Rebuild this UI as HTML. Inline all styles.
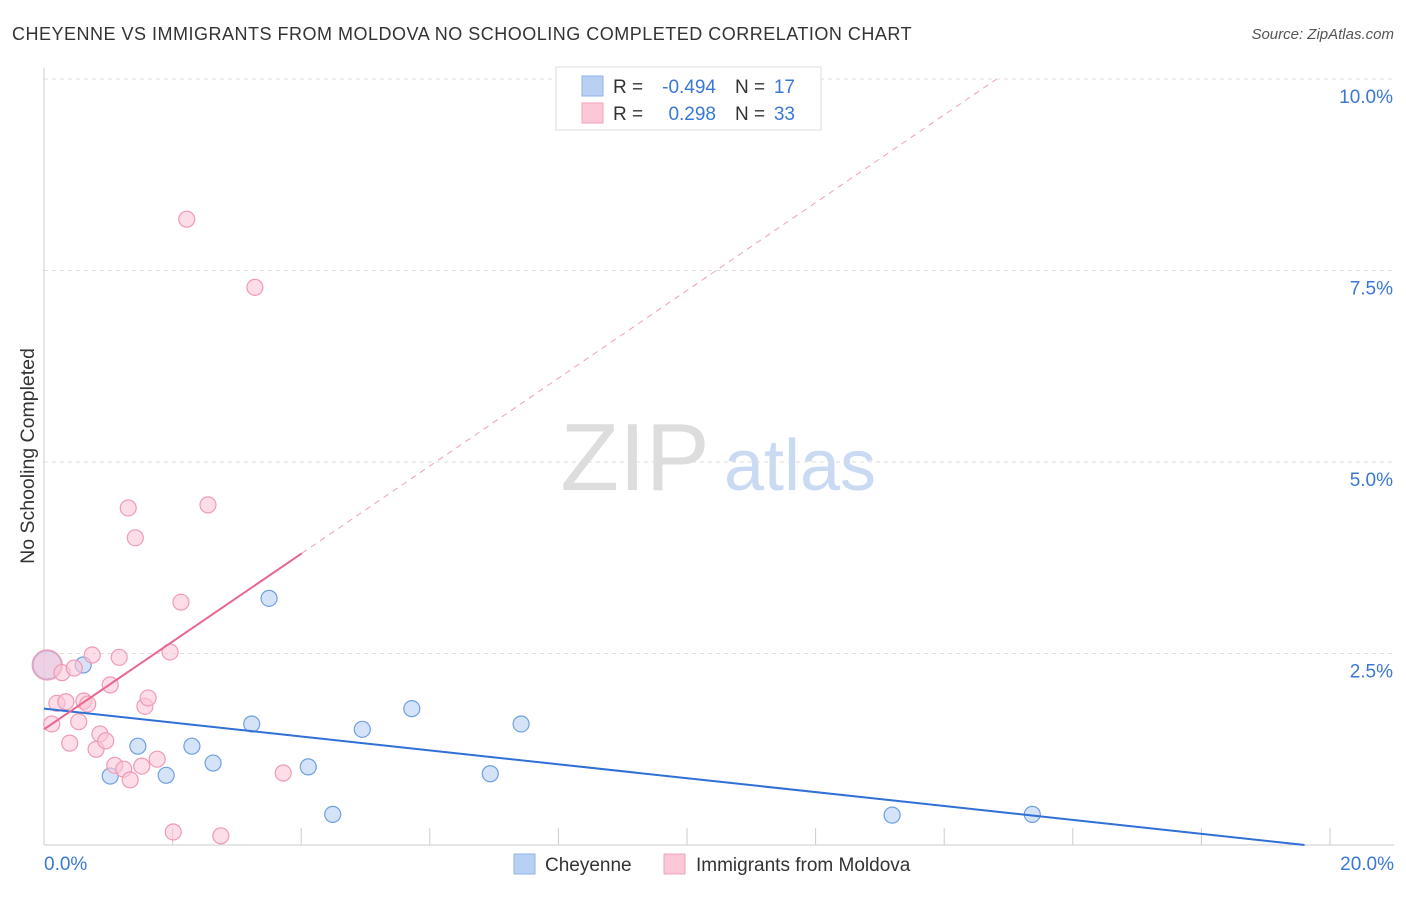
<!DOCTYPE html>
<html><head><meta charset="utf-8"><style>
body{margin:0;background:#fff;font-family:"Liberation Sans",sans-serif;}
svg text{font-family:"Liberation Sans",sans-serif;}
</style></head><body>
<svg id="chart" width="1406" height="892" xmlns="http://www.w3.org/2000/svg">
<text x="12" y="40" font-size="18" letter-spacing="0.5" fill="#333">CHEYENNE VS IMMIGRANTS FROM MOLDOVA NO SCHOOLING COMPLETED CORRELATION CHART</text>
<text x="1394" y="39" font-size="15" fill="#555" text-anchor="end" font-style="italic">Source: ZipAtlas.com</text>
<text x="34" y="456" font-size="19.5" fill="#333" text-anchor="middle" transform="rotate(-90 34 456)">No Schooling Completed</text>
<g><text x="635" y="490" font-size="96" fill="#ddd" font-family="Liberation Serif" text-anchor="middle">ZIP</text><text x="800" y="490" font-size="72" fill="#c9daf2" text-anchor="middle">atlas</text></g>
<g id="grid"></g><g id="marks"></g>
<g>
<rect x="556" y="67" width="265" height="63" fill="#fff" stroke="#ddd"/>
<rect x="582" y="76" width="21" height="20" fill="#b8d1f3" stroke="#8fb4e8"/>
<text x="613" y="93" font-size="19" fill="#333">R =</text><text x="716" y="93" font-size="19" fill="#3a78d6" text-anchor="end">-0.494</text>
<text x="735" y="93" font-size="19" fill="#333">N =</text><text x="795" y="93" font-size="19" fill="#3a78d6" text-anchor="end">17</text>
<rect x="582" y="103" width="21" height="20" fill="#fcc7d7" stroke="#f3a3bb"/>
<text x="613" y="120" font-size="19" fill="#333">R =</text><text x="716" y="120" font-size="19" fill="#3a78d6" text-anchor="end">0.298</text>
<text x="735" y="120" font-size="19" fill="#333">N =</text><text x="795" y="120" font-size="19" fill="#3a78d6" text-anchor="end">33</text>
</g>
<g>
<rect x="514" y="854" width="21" height="20" fill="#b8d1f3" stroke="#8fb4e8"/>
<text x="545" y="871" font-size="19" fill="#333">Cheyenne</text>
<rect x="664" y="854" width="21" height="20" fill="#fcc7d7" stroke="#f3a3bb"/>
<text x="696" y="871" font-size="19" fill="#333">Immigrants from Moldova</text>
</g>
</svg>
<script>
const blueX=[0.05,0.61,1.03,1.46,1.90,2.30,2.63,3.23,3.50,4.11,4.49,4.95,5.72,6.94,7.42,13.19,15.37];
const blueY=[2.35,2.35,0.90,1.29,0.91,1.29,1.07,1.58,3.22,1.02,0.40,1.51,1.78,0.93,1.58,0.39,0.40];
const pinkX=[0.05,0.12,0.20,0.28,0.34,0.40,0.47,0.54,0.62,0.68,0.75,0.81,0.87,0.96,1.03,1.10,1.17,1.24,1.31,1.34,1.42,1.52,1.57,1.62,1.76,1.96,2.01,2.13,2.22,2.55,2.75,3.28,3.72];
const pinkY=[2.35,1.58,1.85,2.25,1.87,1.33,2.31,1.61,1.88,1.84,2.48,1.25,1.45,1.36,2.09,1.04,2.45,0.99,4.40,0.85,4.01,1.03,1.81,1.92,1.12,2.52,0.17,3.17,8.17,4.44,0.12,7.28,0.94];
const yTicks=[2.5,5.0,7.5,10.0];
const yTickLabels=["2.5%","5.0%","7.5%","10.0%"];
const blueTrend=[1.78,-0.0908];
const pinkTrend=[1.51,0.573];
const NS="http://www.w3.org/2000/svg";
const sx=v=>44+v*64.3, sy=v=>845-v*76.6;
function mk(tag,at,parent){const e=document.createElementNS(NS,tag);for(const k in at)e.setAttribute(k,at[k]);parent.appendChild(e);return e;}
const grid=document.getElementById('grid'), marks=document.getElementById('marks');
yTicks.forEach((t,i)=>{
 const l=mk('line',{x1:44,x2:1394,y1:sy(t),y2:sy(t),stroke:'#ddd','stroke-dasharray':'4,4'},grid);
 
 
 const tx=mk('text',{x:1393,y:sy(t)+24,'font-size':19,fill:'#3a78d6','text-anchor':'end'},grid);
 tx.textContent=yTickLabels[i];
 
 
});
const ax=mk('line',{x1:44,x2:44,y1:68,y2:845,stroke:'#ccc'},grid);


const bx=mk('line',{x1:44,x2:1394,y1:845,y2:845,stroke:'#ccc'},grid);


for(let i=0;i<=10;i++){const t=mk('line',{x1:sx(i*2),x2:sx(i*2),y1:828,y2:845,stroke:'#ccc'},grid);
 
 }
[[0,'0.0%','start',44],[20,'20.0%','end',1394]].forEach(a=>{const t=mk('text',{x:a[3],y:870,'font-size':19,fill:'#3a78d6','text-anchor':a[2]},grid);t.textContent=a[1];
 
 });
function dot(x,y,f,s,r){const c=mk('circle',{cx:sx(x),cy:sy(y),r:r,fill:f,'fill-opacity':0.6,stroke:s,'stroke-width':1.2},marks);return c;}
blueX.forEach((x,i)=>{const c=dot(x,blueY[i],'#b8d1f3','#6fa0e0',i===0?14:8);
 
 });
pinkX.forEach((x,i)=>{const c=dot(x,pinkY[i],'#fcc7d7','#f09ab5',i===0?15:8);
 
 });
const bEnd=-blueTrend[0]/blueTrend[1];
const bl=mk('line',{x1:sx(0),y1:sy(blueTrend[0]),x2:sx(bEnd),y2:sy(0),stroke:'#2f6fd6','stroke-width':2},marks);


const px=4.01, pEnd=(10-pinkTrend[0])/pinkTrend[1];
const pl=mk('line',{x1:sx(0),y1:sy(pinkTrend[0]),x2:sx(px),y2:sy(pinkTrend[0]+pinkTrend[1]*px),stroke:'#e8668f','stroke-width':2},marks);


const pd=mk('line',{x1:sx(px),y1:sy(pinkTrend[0]+pinkTrend[1]*px),x2:sx(pEnd),y2:sy(10),stroke:'#f0a0b8','stroke-width':1,'stroke-dasharray':'6,5'},marks);


</script>
</body></html>
